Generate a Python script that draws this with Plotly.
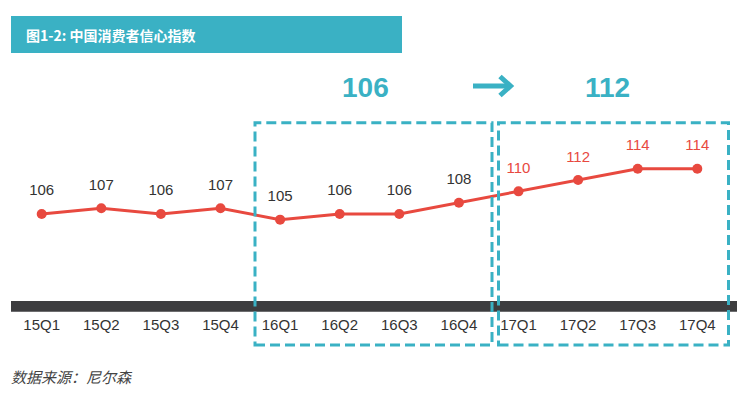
import plotly.graph_objects as go

# ---- data ----
quarters = ["15Q1", "15Q2", "15Q3", "15Q4", "16Q1", "16Q2", "16Q3", "16Q4",
            "17Q1", "17Q2", "17Q3", "17Q4"]
cci = [106, 107, 106, 107, 105, 106, 106, 108, 110, 112, 114, 114]
label_colors = ["#333333"] * 8 + ["#e8493f"] * 4
avg_2016 = "106"
avg_2017 = "112"
title_text = "图1-2: 中国消费者信心指数"
source_text = "数据来源：尼尔森"

W, H = 755, 395
PLOT_BOTTOM = 301  # pixel y of plot-area bottom
TEAL = "#3ab1c4"
RED = "#e8493f"


def px(x):
    return x / W


def py(y):
    return (PLOT_BOTTOM - y) / PLOT_BOTTOM


xs = list(range(len(quarters)))
fig = go.Figure()
fig.add_trace(go.Scatter(
    x=xs, y=cci,
    mode="lines+markers",
    line=dict(color=RED, width=3),
    marker=dict(color=RED, size=10),
    cliponaxis=False,
    hoverinfo="skip",
))
# value labels (invisible larger marker to push labels up)
fig.add_trace(go.Scatter(
    x=xs, y=cci,
    mode="markers+text",
    marker=dict(color="rgba(0,0,0,0)", size=22),
    text=[str(v) for v in cci],
    textposition="top center",
    textfont=dict(family="Liberation Sans, Arial, sans-serif", size=15, color=label_colors),
    cliponaxis=False,
    hoverinfo="skip",
))

shapes = []
# title banner
shapes.append(dict(type="rect", xref="paper", yref="paper",
                   x0=px(11), x1=px(402), y0=py(53), y1=py(16),
                   fillcolor=TEAL, line=dict(width=0), layer="below"))
# dark base bar
shapes.append(dict(type="rect", xref="paper", yref="paper",
                   x0=px(11), x1=px(737), y0=py(311.7), y1=py(301),
                   fillcolor="#3d3d3f", line=dict(width=0), layer="below"))
# dashed boxes
for x0, x1 in [(255, 492), (498.5, 728.5)]:
    shapes.append(dict(type="rect", xref="paper", yref="paper",
                       x0=px(x0), x1=px(x1), y0=py(345), y1=py(122.7),
                       fillcolor="rgba(0,0,0,0)",
                       line=dict(color=TEAL, width=3, dash="10px,5px"),
                       layer="above"))
# arrow
shapes.append(dict(type="path", xref="paper", yref="paper",
                   path=f"M {px(473)} {py(86)} L {px(510)} {py(86)}",
                   line=dict(color=TEAL, width=5)))
shapes.append(dict(type="path", xref="paper", yref="paper",
                   path=f"M {px(500)} {py(76.5)} L {px(510.5)} {py(86)} L {px(500)} {py(95.5)}",
                   line=dict(color=TEAL, width=5)))

annotations = [
    dict(text=f"<b>{title_text}</b>", xref="paper", yref="paper",
         x=px(24), y=py(35), xanchor="left", yanchor="middle", showarrow=False,
         font=dict(family="Noto Sans CJK SC", size=14, color="white")),
    dict(text=f"<b>{avg_2016}</b>", xref="paper", yref="paper",
         x=px(365), y=py(87), xanchor="center", yanchor="middle", showarrow=False,
         font=dict(family="Liberation Sans, Arial, sans-serif", size=28, color=TEAL)),
    dict(text=f"<b>{avg_2017}</b>", xref="paper", yref="paper",
         x=px(607), y=py(87), xanchor="center", yanchor="middle", showarrow=False,
         font=dict(family="Liberation Sans, Arial, sans-serif", size=28, color=TEAL)),
    dict(text=f"<i>{source_text}</i>", xref="paper", yref="paper",
         x=px(9), y=py(376), xanchor="left", yanchor="middle", showarrow=False,
         font=dict(family="Noto Sans CJK SC", size=15, color="#444444")),
]

x0pix, step = 41.7, 59.6
y_slope, y_cpx, y_cval = 5.66, 200.29, 108.42
fig.update_layout(
    width=W, height=H,
    margin=dict(l=0, r=0, t=0, b=H - PLOT_BOTTOM, pad=0),
    paper_bgcolor="white", plot_bgcolor="white",
    showlegend=False,
    xaxis=dict(
        range=[-x0pix / step, (W - x0pix) / step],
        tickmode="array", tickvals=xs, ticktext=quarters,
        showgrid=False, zeroline=False, showline=False,
        ticks="outside", ticklen=10, tickcolor="rgba(0,0,0,0)",
        tickfont=dict(family="Liberation Sans, Arial, sans-serif", size=15, color="#333333"),
        fixedrange=True,
    ),
    yaxis=dict(
        range=[y_cval - (PLOT_BOTTOM - y_cpx) / y_slope, y_cval + y_cpx / y_slope],
        visible=False, fixedrange=True,
    ),
    shapes=shapes,
    annotations=annotations,
)

fig.write_html("out.html")
